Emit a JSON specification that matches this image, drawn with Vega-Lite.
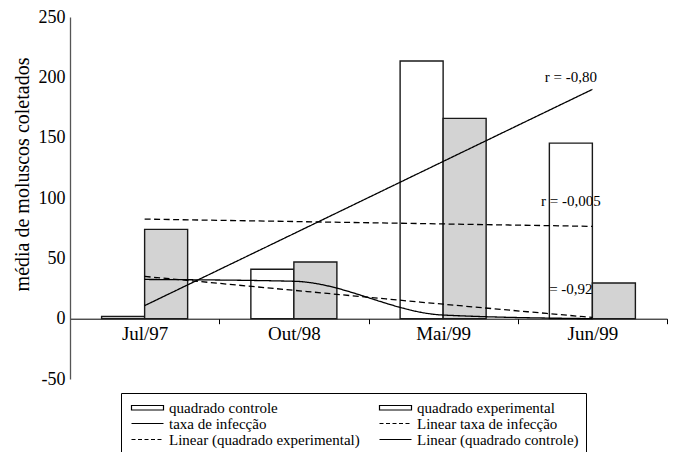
{
  "$schema": "https://vega.github.io/schema/vega-lite/v6.json",
  "width": 597,
  "height": 362,
  "autosize": {"type": "none"},
  "padding": {"left": 70, "top": 17, "right": 7, "bottom": 73},
  "background": "white",
  "config": {"view": {"stroke": null}, "font": "Liberation Serif"},
  "datasets": {
    "barras": [
      {"mes": "Jul/97", "serie": "quadrado controle", "valor": 1.8},
      {"mes": "Jul/97", "serie": "quadrado experimental", "valor": 74},
      {"mes": "Out/98", "serie": "quadrado controle", "valor": 41},
      {"mes": "Out/98", "serie": "quadrado experimental", "valor": 47},
      {"mes": "Mai/99", "serie": "quadrado controle", "valor": 213.5},
      {"mes": "Mai/99", "serie": "quadrado experimental", "valor": 166},
      {"mes": "Jun/99", "serie": "quadrado controle", "valor": 145.5},
      {"mes": "Jun/99", "serie": "quadrado experimental", "valor": 29.5}
    ],
    "linhas": [
      {"mes": "Jul/97", "i": 1, "serie": "taxa de infecção", "valor": 32.5},
      {"mes": "Out/98", "i": 2, "serie": "taxa de infecção", "valor": 31},
      {"mes": "Mai/99", "i": 3, "serie": "taxa de infecção", "valor": 3},
      {"mes": "Jun/99", "i": 4, "serie": "taxa de infecção", "valor": 0},
      {"mes": "Jul/97", "i": 1, "serie": "Linear taxa de infecção", "valor": 35},
      {"mes": "Out/98", "i": 2, "serie": "Linear taxa de infecção", "valor": 23.5},
      {"mes": "Mai/99", "i": 3, "serie": "Linear taxa de infecção", "valor": 12},
      {"mes": "Jun/99", "i": 4, "serie": "Linear taxa de infecção", "valor": 1},
      {"mes": "Jul/97", "i": 1, "serie": "Linear (quadrado experimental)", "valor": 82.5},
      {"mes": "Out/98", "i": 2, "serie": "Linear (quadrado experimental)", "valor": 80.5},
      {"mes": "Mai/99", "i": 3, "serie": "Linear (quadrado experimental)", "valor": 78.5},
      {"mes": "Jun/99", "i": 4, "serie": "Linear (quadrado experimental)", "valor": 76.5},
      {"mes": "Jul/97", "i": 1, "serie": "Linear (quadrado controle)", "valor": 10.8},
      {"mes": "Out/98", "i": 2, "serie": "Linear (quadrado controle)", "valor": 70.5},
      {"mes": "Mai/99", "i": 3, "serie": "Linear (quadrado controle)", "valor": 130.3},
      {"mes": "Jun/99", "i": 4, "serie": "Linear (quadrado controle)", "valor": 190}
    ],
    "rotulos": [
      {"mes": "Jun/99", "serie": "quadrado controle", "valor": 200, "texto": "r = -0,80"},
      {"mes": "Jun/99", "serie": "quadrado controle", "valor": 97.5, "texto": "r = -0,005"},
      {"mes": "Jun/99", "serie": "quadrado controle", "valor": 24.5, "texto": "= -0,92"}
    ]
  },
  "layer": [
    {
      "data": {"name": "barras"},
      "mark": {"type": "bar", "stroke": "#1a1a1a", "strokeWidth": 1.4},
      "encoding": {
        "x": {
          "field": "mes", "type": "nominal",
          "sort": ["Jul/97", "Out/98", "Mai/99", "Jun/99"],
          "scale": {"domain": ["Jul/97", "Out/98", "Mai/99", "Jun/99"], "paddingInner": 0, "paddingOuter": 0},
          "axis": {
            "title": null, "offset": -60.3, "labelAngle": 0, "labelFont": "Liberation Serif",
            "labelFontSize": 19, "labelColor": "black", "labelPadding": 1,
            "tickBand": "extent", "tickSize": 5, "tickColor": "black",
            "domainColor": "black", "domainWidth": 1, "grid": false
          }
        },
        "xOffset": {
          "field": "serie", "type": "nominal",
          "scale": {"domain": ["quadrado controle", "quadrado experimental"], "paddingInner": 0, "paddingOuter": 0.735}
        },
        "y": {
          "field": "valor", "type": "quantitative", "stack": null,
          "scale": {"domain": [-50, 250], "nice": false},
          "axis": {
            "values": [-50, 0, 50, 100, 150, 200, 250],
            "labelExpr": "datum.value + ''",
            "title": "média de moluscos coletados", "titleFont": "Liberation Serif",
            "titleFontSize": 20, "titleFontWeight": "normal", "titleColor": "black",
            "titleX": -42, "titleY": 157, "titleAngle": -90, "titleBaseline": "alphabetic", "titleAlign": "center",
            "labelFont": "Liberation Serif", "labelFontSize": 18, "labelColor": "black", "labelPadding": 5,
            "ticks": false, "domainColor": "#555", "domainWidth": 1.3, "grid": false
          }
        },
        "color": {
          "field": "serie", "type": "nominal", "legend": null,
          "scale": {
            "domain": ["quadrado controle", "quadrado experimental"],
            "range": ["white", "#d3d3d3"]
          }
        }
      }
    },
    {
      "data": {"name": "linhas"},
      "mark": {"type": "line", "strokeWidth": 1.3, "interpolate": "monotone", "color": "black"},
      "encoding": {
        "x": {"field": "mes", "type": "nominal", "sort": ["Jul/97", "Out/98", "Mai/99", "Jun/99"]},
        "y": {"field": "valor", "type": "quantitative"},
        "order": {"field": "i", "type": "quantitative"},
        "detail": {"field": "serie", "type": "nominal"},
        "strokeDash": {
          "field": "serie", "type": "nominal", "legend": null,
          "scale": {
            "domain": ["taxa de infecção", "Linear taxa de infecção", "Linear (quadrado experimental)", "Linear (quadrado controle)"],
            "range": [[1, 0], [6, 3.5], [6, 3.5], [1, 0]]
          }
        }
      }
    },
    {
      "data": {"name": "linhas"},
      "mark": {"type": "point", "filled": false, "color": "black", "opacity": 0},
      "encoding": {
        "x": {"field": "mes", "type": "nominal", "sort": ["Jul/97", "Out/98", "Mai/99", "Jun/99"]},
        "y": {"field": "valor", "type": "quantitative"},
        "shape": {
          "field": "serie", "type": "nominal",
          "scale": {
            "domain": ["quadrado controle", "taxa de infecção", "Linear (quadrado experimental)", "quadrado experimental", "Linear taxa de infecção", "Linear (quadrado controle)"],
            "range": [
              "M-3.2,-0.45H3.2V0.45H-3.2Z",
              "M-3.2,0H3.2",
              "M-3.2,0H-2.4M-1.9,0H-1.1M-0.6,0H0.2M0.7,0H1.5M2,0H2.8",
              "M-3.2,-0.45H3.2V0.45H-3.2Z",
              "M-3.2,0H-2.4M-1.9,0H-1.1M-0.6,0H0.2M0.7,0H1.5M2,0H2.8",
              "M-3.2,0H3.2"
            ]
          },
          "legend": {
            "title": null, "orient": "none", "legendX": 51, "legendY": 376,
            "direction": "vertical", "columns": 2, "columnPadding": 16, "rowPadding": 0,
            "padding": 7, "strokeColor": "black", "fillColor": "white",
            "labelFont": "Liberation Serif", "labelFontSize": 15, "labelColor": "black", "labelLimit": 300,
            "labelOffset": 14, "symbolSize": 100, "symbolOffset": 12, "symbolStrokeWidth": 1.2,
            "symbolStrokeColor": "black", "symbolFillColor": "white", "symbolOpacity": 1
          }
        }
      }
    },
    {
      "data": {"name": "rotulos"},
      "mark": {"type": "text", "font": "Liberation Serif", "fontSize": 15, "fill": "black"},
      "encoding": {
        "x": {"field": "mes", "type": "nominal", "sort": ["Jul/97", "Out/98", "Mai/99", "Jun/99"]},
        "xOffset": {"field": "serie", "type": "nominal"},
        "y": {"field": "valor", "type": "quantitative"},
        "text": {"field": "texto"}
      }
    }
  ]
}
